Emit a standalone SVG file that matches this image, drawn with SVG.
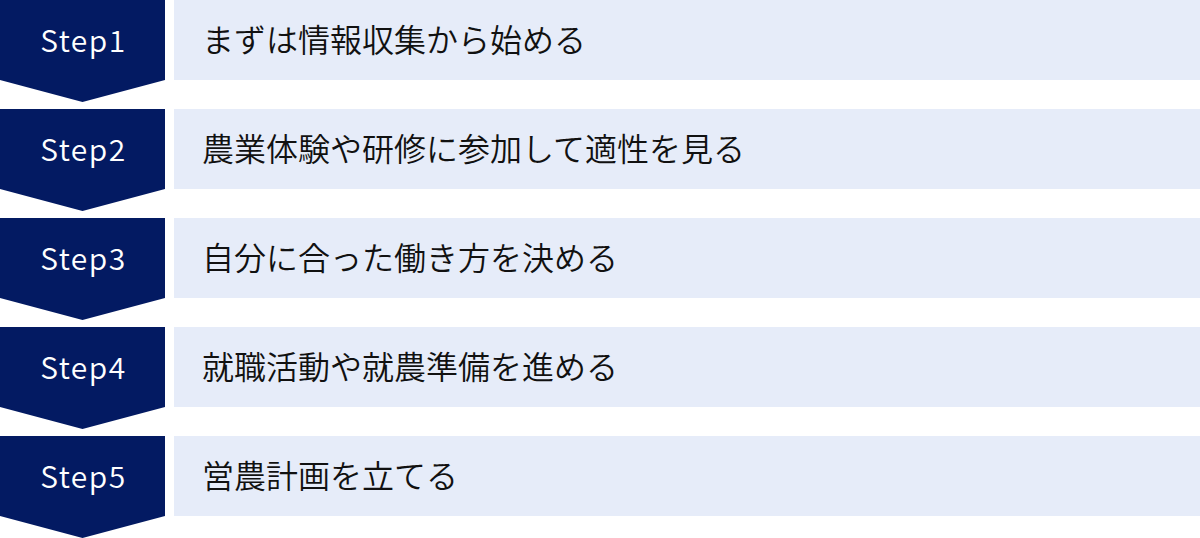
<svg xmlns="http://www.w3.org/2000/svg" width="1200" height="538" viewBox="0 0 1200 538">
<defs>
<style>
.badge{fill:#031a62}
.bar{fill:#e6ecf9}
.step{font-family:"Noto Sans CJK JP","Noto Sans",sans-serif;font-size:30px;font-weight:350;letter-spacing:1.5px;fill:#ffffff;text-anchor:middle;dominant-baseline:central}
.label{font-family:"Noto Sans CJK JP","Noto Sans",sans-serif;font-size:32px;font-weight:350;fill:#111111;dominant-baseline:central}
</style>
<polygon id="chev" points="0,0 165,0 165,80 82.5,102 0,80"/>
</defs>
<rect width="1200" height="538" fill="#ffffff"/>
<g id="connectors"></g>
<g id="step1">
<use href="#chev" class="badge"/>
<rect class="bar" x="174" y="0" width="1026" height="80"/>
<text class="step" x="83.5" y="39">Step1</text>
<text class="label" x="202" y="38">まずは情報収集から始める</text>
</g>
<g id="step2" transform="translate(0,109)">
<use href="#chev" class="badge"/>
<rect class="bar" x="174" y="0" width="1026" height="80"/>
<text class="step" x="83.5" y="39">Step2</text>
<text class="label" x="202" y="38">農業体験や研修に参加して適性を見る</text>
</g>
<g id="step3" transform="translate(0,218)">
<use href="#chev" class="badge"/>
<rect class="bar" x="174" y="0" width="1026" height="80"/>
<text class="step" x="83.5" y="39">Step3</text>
<text class="label" x="202" y="38">自分に合った働き方を決める</text>
</g>
<g id="step4" transform="translate(0,327)">
<use href="#chev" class="badge"/>
<rect class="bar" x="174" y="0" width="1026" height="80"/>
<text class="step" x="83.5" y="39">Step4</text>
<text class="label" x="202" y="38">就職活動や就農準備を進める</text>
</g>
<g id="step5" transform="translate(0,436)">
<use href="#chev" class="badge"/>
<rect class="bar" x="174" y="0" width="1026" height="80"/>
<text class="step" x="83.5" y="39">Step5</text>
<text class="label" x="202" y="38">営農計画を立てる</text>
</g>
</svg>
